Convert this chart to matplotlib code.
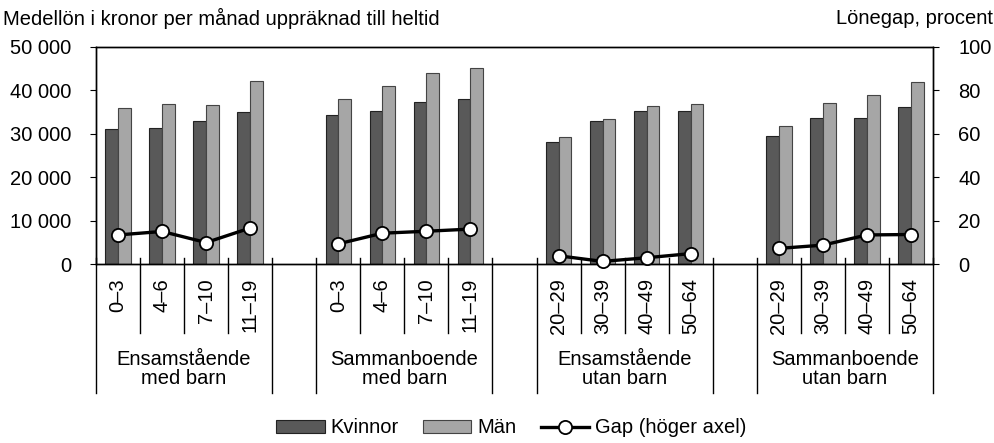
import numpy as np
import matplotlib as mpl
import matplotlib.pyplot as plt
from matplotlib.patches import Patch
from matplotlib.lines import Line2D
from matplotlib.ticker import FuncFormatter
import matplotlib.transforms as mtransforms

mpl.rcParams['font.family'] = ['Liberation Sans', 'DejaVu Sans']

groups = ["Ensamstående\nmed barn", "Sammanboende\nmed barn",
          "Ensamstående\nutan barn", "Sammanboende\nutan barn"]
sub_labels = [["0–3", "4–6", "7–10", "11–19"],
              ["0–3", "4–6", "7–10", "11–19"],
              ["20–29", "30–39", "40–49", "50–64"],
              ["20–29", "30–39", "40–49", "50–64"]]

kvinnor = [[31000, 31300, 33000, 35000],
           [34300, 35300, 37300, 37900],
           [28000, 33000, 35300, 35200],
           [29400, 33700, 33600, 36200]]
man = [[35900, 36900, 36600, 42100],
       [37900, 41100, 43900, 45200],
       [29200, 33400, 36300, 36900],
       [31700, 37000, 38900, 41900]]
gap = [[13.4, 15.0, 9.9, 16.6],
       [9.3, 14.2, 15.1, 16.1],
       [3.8, 1.2, 2.9, 4.8],
       [7.2, 8.7, 13.4, 13.6]]

c_k = "#595959"
c_m = "#a6a6a6"
fs = 14.5

fig = plt.figure(figsize=(9.95, 4.43), dpi=100)
ax = fig.add_axes([0.0965, 0.404, 0.8412, 0.490])
ax2 = ax.twinx()

bw = 0.29
for g in range(4):
    x = np.arange(4) + g * 5
    ax.bar(x - bw / 2, kvinnor[g], width=bw, color=c_k, edgecolor="#222222", linewidth=0.8)
    ax.bar(x + bw / 2, man[g], width=bw, color=c_m, edgecolor="#444444", linewidth=0.8)
    ax2.plot(x, gap[g], color="black", linewidth=2.4, marker="o", markersize=9.5,
             markerfacecolor="white", markeredgecolor="black", markeredgewidth=1.3,
             clip_on=False, zorder=5)

ax.set_xlim(-0.5, 18.5)
ax.set_ylim(0, 50000)
ax2.set_ylim(0, 100)
ax.set_yticks(np.arange(0, 50001, 10000))
ax2.set_yticks(np.arange(0, 101, 20))
ax.yaxis.set_major_formatter(FuncFormatter(lambda v, p: f"{int(v):,}".replace(",", " ")))
ax.tick_params(axis="y", direction="out", length=4, labelsize=fs, pad=14)
ax2.tick_params(axis="y", direction="out", length=4, labelsize=fs, pad=14)
ax.set_xticks([])
for a in (ax, ax2):
    for s in a.spines.values():
        s.set_linewidth(1.0)
        s.set_color("black")

# category axis drawn by hand
trans = mtransforms.blended_transform_factory(ax.transData, ax.transAxes)
for g in range(4):
    x0 = g * 5 - 0.5
    for b in range(5):
        xb = x0 + b
        y_end = -0.594 if b in (0, 4) else -0.318
        ax.plot([xb, xb], [0.028, y_end], color="black", linewidth=1.0,
                transform=trans, clip_on=False)
    for i, lab in enumerate(sub_labels[g]):
        ax.text(g * 5 + i, -0.064, lab, rotation=90, ha="center", va="top",
                fontsize=fs, transform=trans)
    ax.text(g * 5 + 1.5, -0.484, groups[g], ha="center", va="center",
            multialignment="center", fontsize=fs, transform=trans, linespacing=1.05)

fig.text(0.003, 0.959, "Medellön i kronor per månad uppräknad till heltid",
         ha="left", va="center", fontsize=14.5)
fig.text(0.998, 0.959, "Lönegap, procent", ha="right", va="center", fontsize=14.5)

handles = [Patch(facecolor=c_k, edgecolor="#222222", linewidth=0.8),
           Patch(facecolor=c_m, edgecolor="#444444", linewidth=0.8),
           Line2D([], [], color="black", linewidth=2.4, marker="o", markersize=9.5,
                  markerfacecolor="white", markeredgecolor="black", markeredgewidth=1.3)]
fig.legend(handles, ["Kvinnor", "Män", "Gap (höger axel)"], loc="center",
           bbox_to_anchor=(0.514, 0.034), ncol=3, frameon=False, fontsize=fs,
           handlelength=2.4, handleheight=0.65, handletextpad=0.3, columnspacing=1.2)

plt.savefig("out.png", dpi=100)
